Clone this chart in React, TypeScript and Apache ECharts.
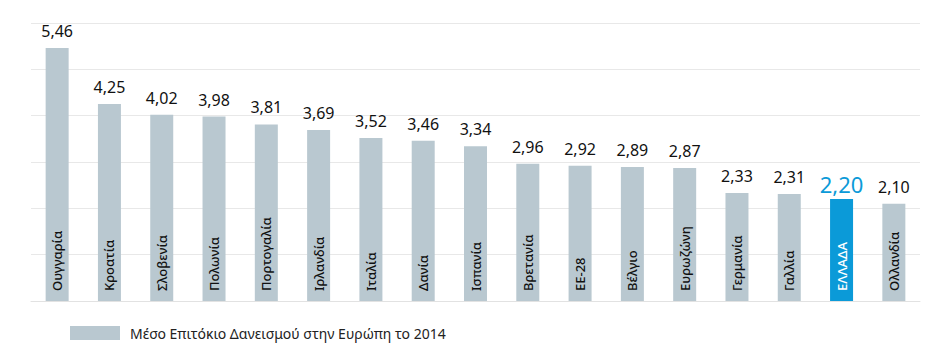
import React, { useEffect, useRef } from "react";
import * as echarts from "echarts";

const categories = [
  "Ουγγαρία", "Κροατία", "Σλοβενία", "Πολωνία", "Πορτογαλία", "Ιρλανδία",
  "Ιταλία", "Δανία", "Ισπανία", "Βρετανία", "ΕΕ-28", "Βέλγιο", "Ευρωζώνη",
  "Γερμανία", "Γαλλία", "ΕΛΛΑΔΑ", "Ολλανδία",
];
const values = [5.46, 4.25, 4.02, 3.98, 3.81, 3.69, 3.52, 3.46, 3.34, 2.96, 2.92, 2.89, 2.87, 2.33, 2.31, 2.2, 2.1];
const highlight = "ΕΛΛΑΔΑ";
const seriesName = "Μέσο Επιτόκιο Δανεισμού στην Ευρώπη το 2014";

const FONT = "'Noto Sans', sans-serif";
const GREY = "#b9c8d0";
const BLUE = "#0b9ad8";

export default function App() {
  const ref = useRef<HTMLDivElement>(null);
  useEffect(() => {
    if (!ref.current) return;
    document.body.style.margin = "0";
    const chart = echarts.init(ref.current, undefined, { renderer: "svg" });
    const fmt = (v: number) => v.toFixed(2).replace(".", ",");
    chart.setOption({
      animation: false,
      textStyle: { fontFamily: FONT },
      grid: { left: 31, right: 15, top: 23, bottom: 62 },
      legend: {
        data: [seriesName],
        left: 65,
        top: 321,
        itemWidth: 50,
        itemHeight: 14,
        icon: "rect",
        textStyle: { fontSize: 14, color: "#222", fontFamily: FONT, padding: [0, 0, 0, 5] },
      },
      xAxis: {
        type: "category",
        data: categories,
        axisLabel: { show: false },
        axisTick: { show: false },
        axisLine: { lineStyle: { color: "#e2e2e2" } },
      },
      yAxis: {
        type: "value",
        min: 0,
        max: 6,
        interval: 1,
        axisLabel: { show: false },
        axisLine: { show: false },
        axisTick: { show: false },
        splitLine: { lineStyle: { color: "#e8e8e8" } },
      },
      series: [
        {
          name: seriesName,
          type: "bar",
          barWidth: 23,
          itemStyle: { color: GREY },
          data: values.map((v, i) =>
            categories[i] === highlight
              ? {
                  value: v,
                  itemStyle: { color: BLUE },
                  label: { color: BLUE, fontSize: 22, distance: 4 },
                }
              : v
          ),
          label: {
            show: true,
            position: "top",
            distance: 9,
            color: "#111",
            fontSize: 16,
            fontFamily: FONT,
            formatter: (p: any) => fmt(p.value),
          },
        },
        {
          name: "labels",
          type: "bar",
          barWidth: 23,
          barGap: "-100%",
          silent: true,
          itemStyle: { color: "transparent" },
          data: values.map((v, i) => ({
            value: v,
            label: { color: categories[i] === highlight ? "#fff" : "#111" },
          })),
          label: {
            show: true,
            position: "insideBottom",
            rotate: 90,
            align: "left",
            verticalAlign: "middle",
            distance: 10,
            fontSize: 13,
            fontWeight: 500,
            fontFamily: FONT,
            formatter: (p: any) => p.name,
          },
        },
      ],
    });
    return () => chart.dispose();
  }, []);
  return <div ref={ref} style={{ width: 935, height: 363 }} />;
}
